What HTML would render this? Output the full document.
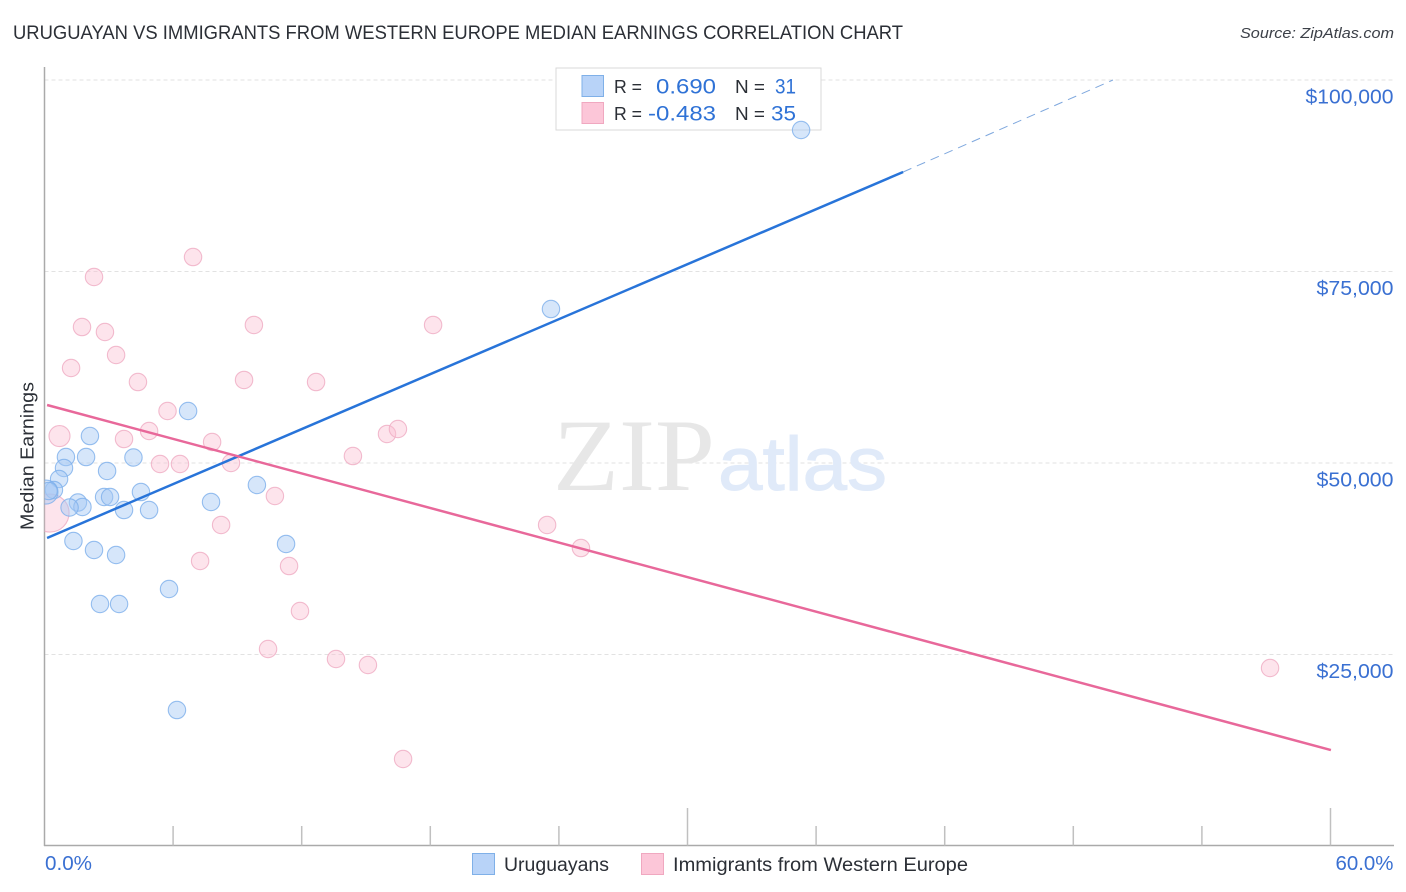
<!DOCTYPE html>
<html lang="en">
<head>
<meta charset="utf-8">
<title>Uruguayan vs Immigrants from Western Europe Median Earnings Correlation Chart</title>
<style>
html,body{margin:0;padding:0;background:#fff;width:1406px;height:892px;overflow:hidden}
svg{display:block;font-family:"Liberation Sans",sans-serif}
</style>
</head>
<body>
<svg id="chart" xmlns="http://www.w3.org/2000/svg" width="1406" height="892" viewBox="0 0 1406 892">
  <defs><clipPath id="plot-clip"><rect x="44.5" y="60" width="1350" height="786"/></clipPath></defs>
  <rect width="1406" height="892" fill="#fff"/>
  <text x="13" y="39" font-size="19" fill="#2b2f36" textLength="890" lengthAdjust="spacingAndGlyphs">URUGUAYAN VS IMMIGRANTS FROM WESTERN EUROPE MEDIAN EARNINGS CORRELATION CHART</text>
  <text x="1394" y="38" font-size="15" font-style="italic" fill="#3c4048" text-anchor="end" textLength="154" lengthAdjust="spacingAndGlyphs">Source: ZipAtlas.com</text>
  <g id="grid"></g>
  <g>
    <text x="553" y="490" font-family="'Liberation Serif',serif" font-size="103" fill="#e7e7e7" textLength="162" lengthAdjust="spacingAndGlyphs">ZIP</text>
    <text x="718" y="490" font-size="76" fill="#e0eaf9" stroke="#e0eaf9" stroke-width="1" textLength="169" lengthAdjust="spacingAndGlyphs">atlas</text>
  </g>
  <g id="axes"></g>
  <g>
    <rect x="556" y="68" width="265" height="62" fill="#fff" stroke="#d9d9d9" stroke-width="1"/>
    <rect x="582" y="75.5" width="21.500" height="21" fill="#b8d3f8" stroke="#7fb0e8"/>
    <rect x="582" y="102.500" width="21.500" height="21" fill="#fcc6d8" stroke="#f0a8c0"/>
    <text x="614" y="93" font-size="18.500" fill="#2b2f36" textLength="28" lengthAdjust="spacingAndGlyphs">R =</text>
    <text x="716" y="93.500" font-size="21" fill="#2f72d6" text-anchor="end" textLength="60" lengthAdjust="spacingAndGlyphs">0.690</text>
    <text x="735" y="93" font-size="18.500" fill="#2b2f36" textLength="30" lengthAdjust="spacingAndGlyphs">N =</text>
    <text x="796" y="93.500" font-size="21" fill="#2f72d6" text-anchor="end" textLength="21" lengthAdjust="spacingAndGlyphs">31</text>
    <text x="614" y="120" font-size="18.500" fill="#2b2f36" textLength="28" lengthAdjust="spacingAndGlyphs">R =</text>
    <text x="716" y="120.500" font-size="21" fill="#2f72d6" text-anchor="end" textLength="68" lengthAdjust="spacingAndGlyphs">-0.483</text>
    <text x="735" y="120" font-size="18.500" fill="#2b2f36" textLength="30" lengthAdjust="spacingAndGlyphs">N =</text>
    <text x="796" y="120.500" font-size="21" fill="#2f72d6" text-anchor="end" textLength="25" lengthAdjust="spacingAndGlyphs">35</text>
  </g>
  <g id="marks" clip-path="url(#plot-clip)"></g>
  <text transform="translate(33.500,456) rotate(-90)" font-size="18.500" fill="#2b2f36" text-anchor="middle" textLength="148" lengthAdjust="spacingAndGlyphs">Median Earnings</text>
  <g>
    <rect x="472.500" y="853.500" width="22" height="21" fill="#b8d3f8" stroke="#7fb0e8"/>
    <text x="504" y="871" font-size="19" fill="#2b2f36" textLength="105" lengthAdjust="spacingAndGlyphs">Uruguayans</text>
    <rect x="641.500" y="853.500" width="22" height="21" fill="#fcc6d8" stroke="#f0a8c0"/>
    <text x="673" y="871" font-size="19" fill="#2b2f36" textLength="295" lengthAdjust="spacingAndGlyphs">Immigrants from Western Europe</text>
  </g>
</svg>
<script>
const yTickValues = [25000, 50000, 75000, 100000];
const yTickLabels = ["$25,000", "$50,000", "$75,000", "$100,000"];
const xTickValues = [0, 6, 12, 18, 24, 30, 36, 42, 48, 54, 60];
const xMajorTicks = [30, 60];
const xEndLabels = ["0.0%", "60.0%"];

const uruguayansX = [35.30,23.63,6.70,2.12,1.00,1.94,4.15,0.91,2.92,0.68,0.44,0.07,0.19,4.50,2.78,3.06,1.56,1.77,1.17,3.71,4.88,7.77,9.91,11.27,1.35,2.31,3.34,2.59,3.48,5.81,6.18];
const uruguayansY = [93470,70100,56790,53520,50780,50780,50720,49350,48960,47910,46480,46210,46340,46210,45560,45560,44840,44260,44190,43860,43860,44910,47130,39430,39820,38640,37990,31590,31590,33550,17750];
const uruguayansWeight = [1,1,1,1,1,1,1,1,1,1,1,1.9,1,1,1,1,1,1,1,1,1,1,1,1,1,1,1,1,1,1,1];

const immigrantsX = [57.18,16.73,15.09,13.60,10.43,11.92,11.41,7.26,8.24,10.75,8.70,6.32,5.39,7.82,3.71,4.88,5.74,0.70,0.26,1.24,4.36,3.34,2.82,1.75,2.31,6.93,9.77,9.31,12.67,14.39,15.98,16.49,18.13,23.45,25.03];
const immigrantsY = [23240,11360,23630,24410,25720,30680,36550,37210,41910,45690,50000,49870,49870,52740,53130,54180,56790,53520,43470,62400,60570,64100,67100,67750,74280,76890,68020,60840,60570,50910,53790,54440,68020,41910,38900];
const immigrantsWeight = [1,1,1,1,1,1,1,1,1,1,1,1,1,1,1,1,1,1.46,4.77,1,1,1,1,1,1,1,1,1,1,1,1,1,1,1,1];

const uruguayansTrendX = [0.12, 40.06];
const uruguayansTrendY = [40210, 87990];
const uruguayansProjectionX = [40.06, 49.85];
const uruguayansProjectionY = [87990, 100000];
const immigrantsTrendX = [0.12, 60.02];
const immigrantsTrendY = [57570, 12530];

const SVGNS = "http://www.w3.org/2000/svg";
const xScale = v => 44.5 + v * (1330.5 - 44.5) / 60;
const yScale = v => 846 - v * (846 - 80) / 100000;

function make(parent, tag, attrs) {
  const el = document.createElementNS(SVGNS, tag);
  for (const k in attrs) el.setAttribute(k, attrs[k]);
  parent.appendChild(el);
  return el;
}

const grid = document.getElementById("grid");
const axes = document.getElementById("axes");
const marks = document.getElementById("marks");

yTickValues.forEach((v, i) => {
  const line = make(grid, "line", {x1: 44.5, x2: 1394, y1: yScale(v), y2: yScale(v), stroke: "#e2e2e2", "stroke-width": 1, "stroke-dasharray": "4 3"});
  
  
  const label = make(axes, "text", {x: 1393.5, y: yScale(v) + 23.5, "font-size": 20, fill: "#3a70d2", "text-anchor": "end", textLength: yTickLabels[i].length > 7 ? 88 : 77, lengthAdjust: "spacingAndGlyphs"});
  label.textContent = yTickLabels[i];
  
  
});

const yAxis = make(axes, "line", {x1: 44.5, x2: 44.5, y1: 67, y2: 846, stroke: "#aaaaaa", "stroke-width": 1.5});


const xAxis = make(axes, "line", {x1: 44, x2: 1394, y1: 845.5, y2: 845.5, stroke: "#aaaaaa", "stroke-width": 1.5});



xTickValues.slice(1).forEach(v => {
  const top = xMajorTicks.includes(v) ? 808 : 826;
  const tick = make(axes, "line", {x1: xScale(v), x2: xScale(v), y1: top, y2: 845.5, stroke: "#c0c0c0", "stroke-width": 1.5});
  
  
});

const xLabelStart = make(axes, "text", {x: 45, y: 870, "font-size": 20, fill: "#3a70d2", textLength: 47, lengthAdjust: "spacingAndGlyphs"});
xLabelStart.textContent = xEndLabels[0];


const xLabelEnd = make(axes, "text", {x: 1393.5, y: 870, "font-size": 20, fill: "#3a70d2", "text-anchor": "end", textLength: 58, lengthAdjust: "spacingAndGlyphs"});
xLabelEnd.textContent = xEndLabels[1];



function drawPoints(xs, ys, weights, fill, stroke, name) {
  xs.forEach((x, i) => {
    const c = make(marks, "circle", {cx: xScale(x), cy: yScale(ys[i]), r: 8.7 * Math.sqrt(weights[i]), fill: fill, stroke: stroke, "stroke-width": 1.1});
    
    
  });
}
drawPoints(immigrantsX, immigrantsY, immigrantsWeight, "rgba(250,190,210,0.42)", "rgba(240,175,198,0.85)", "point-immigrants");
drawPoints(uruguayansX, uruguayansY, uruguayansWeight, "rgba(165,200,245,0.45)", "rgba(125,175,235,0.8)", "point-uruguayans");

function drawLine(xs, ys, stroke, width, dash, name) {
  const l = make(marks, "line", {x1: xScale(xs[0]), y1: yScale(ys[0]), x2: xScale(xs[1]), y2: yScale(ys[1]), stroke: stroke, "stroke-width": width});
  if (dash) l.setAttribute("stroke-dasharray", dash);
  
  
}
drawLine(uruguayansProjectionX, uruguayansProjectionY, "#7fa8de", 1, "9 6", "trend-projection-uruguayans");
drawLine(uruguayansTrendX, uruguayansTrendY, "#2874d9", 2.5, null, "trend-line-uruguayans");
drawLine(immigrantsTrendX, immigrantsTrendY, "#e8689a", 2.5, null, "trend-line-immigrants");
</script>
</body>
</html>
